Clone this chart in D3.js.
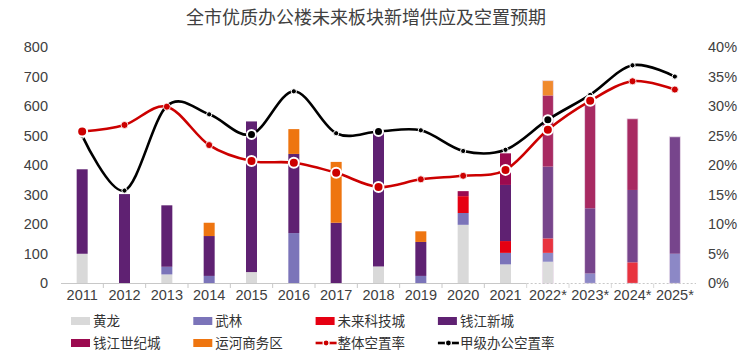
<!DOCTYPE html>
<html><head><meta charset="utf-8">
<script src="https://cdn.jsdelivr.net/npm/d3@7"></script>
<style>
body{margin:0;background:#fff;}
text{font-family:"Liberation Sans","Noto Sans CJK SC",Arial,sans-serif;}
.cjk{font-family:"Noto Sans CJK SC","Liberation Sans",sans-serif;}
</style></head>
<body>
<svg id="c" width="744" height="355"></svg>
<script>
const years = ['2011','2012','2013','2014','2015','2016','2017','2018','2019','2020','2021','2022*','2023*','2024*','2025*'];
const huanglong   = [100,0,30,0,38,0,0,57,0,198,64,73,0,0,0];
const wulin       = [0,0,26,25,0,170,0,0,25,40,39,30,33,0,100];
const weilai      = [0,0,0,0,0,0,0,0,0,57,40,49,0,71,0];
const qjxc        = [286,302,208,135,510,268,205,463,115,0,190,243,221,245,396];
const qjsjc       = [0,0,0,0,0,0,0,0,0,17,107,241,362,241,0];
const yunhe       = [0,0,0,45,0,84,206,0,36,0,0,50,0,0,0];
const vacancyAll  = [25.7,26.8,29.9,23.4,20.7,20.4,18.7,16.3,17.6,18.2,19.2,26.0,30.9,34.2,32.8];
const vacancyA    = [25.0,15.7,30.0,28.6,25.2,32.5,25.4,25.7,25.9,22.4,22.6,27.7,31.9,36.9,35.0];
const leftTicks   = [0,100,200,300,400,500,600,700,800];
const rightTicks  = [0,5,10,15,20,25,30,35,40];

const seriesNames = ['黄龙','武林','未来科技城','钱江新城','钱江世纪城','运河商务区'];
const seriesData = [huanglong,wulin,weilai,qjxc,qjsjc,yunhe];
const colors     = ['#D9D9D9','#7B74B9','#E60012','#5F2172','#9B0A4F','#EE7510'];
const fcColors   = ['#DCDCDC','#8C88C6','#E8333F','#77458C','#A82A62','#F08A2E'];
const forecastStart = 11;
const bigRed = [0,4,5,6,7,10,11,12];
const bigBlack = [4,7,11];

const svg = d3.select('#c');
const x = d3.scaleBand().domain(years).range([61,696]).padding(0);
const y = d3.scaleLinear().domain([0,800]).range([283.3,47]);
const y2 = d3.scaleLinear().domain([0,40]).range([283.3,47]);

// title
svg.append('text').attr('class','cjk').attr('x',366).attr('y',24).attr('text-anchor','middle')
  .attr('font-size',18).attr('fill','#404040').text('全市优质办公楼未来板块新增供应及空置预期');

// left axis
const gl = svg.append('g').attr('transform','translate(50,0)')
  .call(d3.axisLeft(y).tickValues(leftTicks).tickSize(0).tickPadding(2));
gl.select('.domain').remove();
gl.selectAll('text').attr('font-size',14.5).attr('fill','#404040').attr('font-family','Liberation Sans, Arial, sans-serif');

// right axis
const gr = svg.append('g').attr('transform','translate(706,0)')
  .call(d3.axisRight(y2).tickValues(rightTicks).tickSize(0).tickPadding(2).tickFormat(d=>d+'%'));
gr.select('.domain').remove();
gr.selectAll('text').attr('font-size',14.5).attr('fill','#404040').attr('font-family','Liberation Sans, Arial, sans-serif');

// stacked bars
const stackData = years.map((yr,i)=>{const o={year:yr,i:i}; seriesNames.forEach((n,k)=>o[n]=seriesData[k][i]); return o;});
const stack = d3.stack().keys(seriesNames)(stackData);
const bw = 11;
stack.forEach((layer,k)=>{
  svg.append('g').selectAll('rect').data(layer).join('rect')
    .attr('x',d=>x(d.data.year)+x.bandwidth()/2-bw/2)
    .attr('width',bw)
    .attr('y',d=>y(d[1]))
    .attr('height',d=>Math.max(0,y(d[0])-y(d[1])))
    .attr('fill',d=>d.data.i>=forecastStart?fcColors[k]:colors[k]);
});
// forecast bar outline
svg.append('g').selectAll('rect').data(stackData.filter(d=>d.i>=forecastStart)).join('rect')
  .attr('x',d=>x(d.year)+x.bandwidth()/2-bw/2)
  .attr('width',bw)
  .attr('y',d=>y(d3.sum(seriesNames,n=>d[n])))
  .attr('height',d=>y(0)-y(d3.sum(seriesNames,n=>d[n])))
  .attr('fill','none').attr('stroke','#EBDDEB').attr('stroke-width',0.8);

// x axis
const xSplit = x(years[forecastStart]);
svg.append('line').attr('x1',61).attr('x2',xSplit).attr('y1',283.5).attr('y2',283.5).attr('stroke','#C8C8C8').attr('stroke-width',1.2);
svg.append('line').attr('x1',xSplit).attr('x2',696).attr('y1',283.5).attr('y2',283.5).attr('stroke','#C8C8C8').attr('stroke-width',1.2).attr('stroke-dasharray','2,2');
years.forEach((yr,i)=>{
  if(i===0) return;
  svg.append('line').attr('x1',x(yr)).attr('x2',x(yr)).attr('y1',283.5).attr('y2',288)
    .attr('stroke',i>=forecastStart?'#D8D8D8':'#C8C8C8').attr('stroke-width',1);
});
const gx = svg.append('g').attr('transform','translate(0,284)')
  .call(d3.axisBottom(x).tickSize(0).tickPadding(6));
gx.select('.domain').remove();
gx.selectAll('text').attr('font-size',14.5).attr('fill','#404040').attr('font-family','Liberation Sans, Arial, sans-serif');

// lines
const cx = d=>x(d)+x.bandwidth()/2;
const line = d3.line().x((d,i)=>cx(years[i])).y(d=>y2(d)).curve(d3.curveCardinal.tension(0));
svg.append('path').datum(vacancyA).attr('d',line).attr('fill','none').attr('stroke','#000').attr('stroke-width',2.6);
svg.append('path').datum(vacancyAll).attr('d',line).attr('fill','none').attr('stroke','#CC0000').attr('stroke-width',2.6);

// black markers
svg.append('g').selectAll('circle').data(vacancyA).join('circle')
  .attr('cx',(d,i)=>cx(years[i])).attr('cy',d=>y2(d))
  .attr('r',(d,i)=>bigBlack.includes(i)?4.5:2.6)
  .attr('fill','#000').attr('stroke','#fff').attr('stroke-width',(d,i)=>bigBlack.includes(i)?2:1);
// red markers
svg.append('g').selectAll('circle').data(vacancyAll).join('circle')
  .attr('cx',(d,i)=>cx(years[i])).attr('cy',d=>y2(d))
  .attr('r',(d,i)=>bigRed.includes(i)?5:3.5)
  .attr('fill','#CC0000').attr('stroke','#fff').attr('stroke-width',(d,i)=>bigRed.includes(i)?2:0.8);

// legend
const legendItems = [
  {name:'黄龙',type:'rect',color:colors[0]},
  {name:'武林',type:'rect',color:colors[1]},
  {name:'未来科技城',type:'rect',color:colors[2]},
  {name:'钱江新城',type:'rect',color:colors[3]},
  {name:'钱江世纪城',type:'rect',color:colors[4]},
  {name:'运河商务区',type:'rect',color:colors[5]},
  {name:'整体空置率',type:'line',color:'#CC0000'},
  {name:'甲级办公空置率',type:'line',color:'#000'}
];
const lg = svg.append('g');
legendItems.forEach((it,i)=>{
  const col=i%4,row=Math.floor(i/4);
  const lx=71+col*122.3, ly=321+row*22;
  if(it.type==='rect'){
    lg.append('rect').attr('x',lx).attr('y',ly-4).attr('width',19).attr('height',8).attr('fill',it.color);
  } else {
    lg.append('line').attr('x1',lx).attr('x2',lx+21).attr('y1',ly).attr('y2',ly).attr('stroke',it.color).attr('stroke-width',2.6);
    lg.append('circle').attr('cx',lx+10.5).attr('cy',ly).attr('r',3).attr('fill',it.color).attr('stroke','#fff').attr('stroke-width',1.2);
  }
  lg.append('text').attr('class','cjk').attr('x',lx+22).attr('y',ly+5).attr('font-size',13.5).attr('fill','#333').text(it.name);
});
</script>
</body></html>
